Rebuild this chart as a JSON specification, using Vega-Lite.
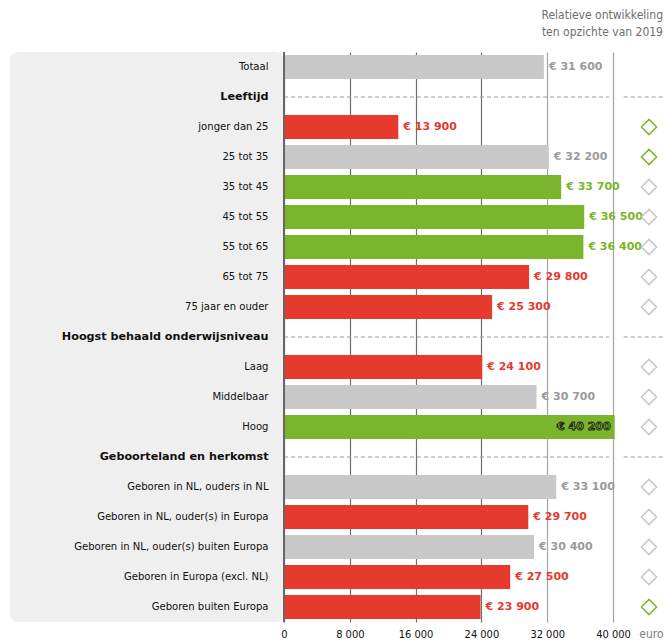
{
  "$schema": "https://vega.github.io/schema/vega-lite/v6.json",
  "padding": {"left": 10, "top": 9, "right": 0, "bottom": 0},
  "spacing": 0,
  "bounds": "flush",
  "config": {
    "view": {"stroke": null},
    "font": "DejaVu Sans Condensed, DejaVu Sans",
    "locale": {"number": {"decimal": ",", "thousands": " ", "grouping": [3], "currency": ["€ ", ""]}}
  },
  "data": {
    "values": [
      {"kenmerk": "Totaal", "inkomen": 31600, "vergelijking": "gelijk", "ontwikkeling": null, "soort": "rij"},
      {"kenmerk": "Leeftijd", "inkomen": null, "vergelijking": null, "ontwikkeling": null, "soort": "kop"},
      {"kenmerk": "jonger dan 25", "inkomen": 13900, "vergelijking": "lager", "ontwikkeling": "toename", "soort": "rij"},
      {"kenmerk": "25 tot 35", "inkomen": 32200, "vergelijking": "gelijk", "ontwikkeling": "toename", "soort": "rij"},
      {"kenmerk": "35 tot 45", "inkomen": 33700, "vergelijking": "hoger", "ontwikkeling": "geen", "soort": "rij"},
      {"kenmerk": "45 tot 55", "inkomen": 36500, "vergelijking": "hoger", "ontwikkeling": "geen", "soort": "rij"},
      {"kenmerk": "55 tot 65", "inkomen": 36400, "vergelijking": "hoger", "ontwikkeling": "geen", "soort": "rij"},
      {"kenmerk": "65 tot 75", "inkomen": 29800, "vergelijking": "lager", "ontwikkeling": "geen", "soort": "rij"},
      {"kenmerk": "75 jaar en ouder", "inkomen": 25300, "vergelijking": "lager", "ontwikkeling": "geen", "soort": "rij"},
      {"kenmerk": "Hoogst behaald onderwijsniveau", "inkomen": null, "vergelijking": null, "ontwikkeling": null, "soort": "kop"},
      {"kenmerk": "Laag", "inkomen": 24100, "vergelijking": "lager", "ontwikkeling": "geen", "soort": "rij"},
      {"kenmerk": "Middelbaar", "inkomen": 30700, "vergelijking": "gelijk", "ontwikkeling": "geen", "soort": "rij"},
      {"kenmerk": "Hoog", "inkomen": 40200, "vergelijking": "hoger", "ontwikkeling": "geen", "soort": "rij"},
      {"kenmerk": "Geboorteland en herkomst", "inkomen": null, "vergelijking": null, "ontwikkeling": null, "soort": "kop"},
      {"kenmerk": "Geboren in NL, ouders in NL", "inkomen": 33100, "vergelijking": "gelijk", "ontwikkeling": "geen", "soort": "rij"},
      {"kenmerk": "Geboren in NL, ouder(s) in Europa", "inkomen": 29700, "vergelijking": "lager", "ontwikkeling": "geen", "soort": "rij"},
      {"kenmerk": "Geboren in NL, ouder(s) buiten Europa", "inkomen": 30400, "vergelijking": "gelijk", "ontwikkeling": "geen", "soort": "rij"},
      {"kenmerk": "Geboren in Europa (excl. NL)", "inkomen": 27500, "vergelijking": "lager", "ontwikkeling": "geen", "soort": "rij"},
      {"kenmerk": "Geboren buiten Europa", "inkomen": 23900, "vergelijking": "lager", "ontwikkeling": "toename", "soort": "rij"}
    ]
  },
  "hconcat": [
    {
      "width": 274,
      "height": 570,
      "view": {"fill": "#efefef", "cornerRadius": 8, "stroke": null},
      "mark": {"type": "tick", "opacity": 0},
      "encoding": {
        "y": {"field": "kenmerk", "type": "nominal", "sort": null, "axis": null}
      }
    },
    {
      "width": 381,
      "height": 570,
      "title": {
        "text": ["Relatieve ontwikkeling", "ten opzichte van 2019"],
        "anchor": "end",
        "align": "right",
        "frame": "group",
        "fontSize": 12,
        "fontWeight": "normal",
        "color": "#6e6e6e",
        "lineHeight": 17,
        "offset": 12,
        "dx": -2
      },
      "resolve": {"scale": {"color": "independent"}},
      "layer": [
        {
          "mark": {"type": "bar"},
          "encoding": {
            "y": {
              "field": "kenmerk", "type": "nominal",
              "scale": {
                "domain": ["Totaal", "Leeftijd", "jonger dan 25", "25 tot 35", "35 tot 45", "45 tot 55", "55 tot 65", "65 tot 75", "75 jaar en ouder", "Hoogst behaald onderwijsniveau", "Laag", "Middelbaar", "Hoog", "Geboorteland en herkomst", "Geboren in NL, ouders in NL", "Geboren in NL, ouder(s) in Europa", "Geboren in NL, ouder(s) buiten Europa", "Geboren in Europa (excl. NL)", "Geboren buiten Europa"],
                "paddingInner": 0.2, "paddingOuter": 0.1
              },
              "axis": {
                "title": null, "domain": false, "ticks": false, "labelPadding": 16,
                "labelFontSize": 11.2, "labelColor": "#111111", "labelLimit": 300,
                "labelFont": {"condition": {"test": "indexof(['Leeftijd','Hoogst behaald onderwijsniveau','Geboorteland en herkomst'], datum.value) >= 0", "value": "DejaVu Sans"}, "value": "DejaVu Sans Condensed, DejaVu Sans"},
                "labelFontWeight": {"condition": {"test": "indexof(['Leeftijd','Hoogst behaald onderwijsniveau','Geboorteland en herkomst'], datum.value) >= 0", "value": "bold"}, "value": "normal"}
              }
            },
            "x": {
              "field": "inkomen", "type": "quantitative",
              "scale": {"domain": [0, 46322], "nice": false, "zero": true},
              "axis": {
                "values": [0, 8000, 16000, 24000, 32000, 40000],
                "format": ",.0f",
                "grid": true,
                "gridColor": {"condition": {"test": "datum.value >= 32000", "value": "#a5a5a5"}, "value": "#6e6e6e"},
                "gridWidth": 1.2,
                "domain": false, "ticks": false, "labelFlush": false,
                "labelPadding": 6, "labelFontSize": 11, "labelColor": "#111111",
                "title": "euro", "titleX": 379, "titleY": 15, "titleAlign": "right", "titleAnchor": null,
                "titleBaseline": "alphabetic",
                "titleFontWeight": "normal", "titleColor": "#808080", "titleFontSize": 12
              }
            },
            "color": {
              "field": "vergelijking", "type": "nominal", "legend": null,
              "scale": {"domain": ["lager", "gelijk", "hoger"], "range": ["#e63a2f", "#c8c8c8", "#7ab52b"]}
            }
          }
        },
        {
          "transform": [{"filter": "datum.soort === 'kop'"}],
          "mark": {"type": "rule", "color": "#9a9a9a", "strokeDash": [4, 3], "strokeWidth": 1},
          "encoding": {
            "y": {"field": "kenmerk", "type": "nominal"},
            "x": {"datum": 0},
            "x2": {"datum": 39500}
          }
        },
        {
          "transform": [{"filter": "datum.soort === 'kop'"}],
          "mark": {"type": "rule", "color": "#9a9a9a", "strokeDash": [4, 3], "strokeWidth": 1},
          "encoding": {
            "y": {"field": "kenmerk", "type": "nominal"},
            "x": {"datum": 41300},
            "x2": {"datum": 46322}
          }
        },
        {
          "transform": [{"filter": "datum.inkomen != null && datum.kenmerk !== 'Hoog'"}],
          "mark": {"type": "text", "align": "left", "dx": 5, "fontSize": 11, "fontWeight": "bold", "font": "DejaVu Sans"},
          "encoding": {
            "y": {"field": "kenmerk", "type": "nominal"},
            "x": {"field": "inkomen", "type": "quantitative"},
            "text": {"field": "inkomen", "type": "quantitative", "format": "$,.0f"},
            "color": {
              "field": "vergelijking", "type": "nominal", "legend": null,
              "scale": {"domain": ["lager", "gelijk", "hoger"], "range": ["#e63a2f", "#9a9a9a", "#7ab52b"]}
            }
          }
        },
        {
          "transform": [{"filter": "datum.kenmerk === 'Hoog'"}],
          "mark": {"type": "text", "align": "right", "dx": -4, "fontSize": 11, "fontWeight": "bold", "font": "DejaVu Sans", "fill": "#7ab52b", "stroke": "#1a1a1a", "strokeWidth": 0.9},
          "encoding": {
            "y": {"field": "kenmerk", "type": "nominal"},
            "x": {"field": "inkomen", "type": "quantitative"},
            "text": {"field": "inkomen", "type": "quantitative", "format": "$,.0f"}
          }
        },
        {
          "transform": [{"filter": "datum.ontwikkeling != null"}],
          "mark": {"type": "point", "shape": "diamond", "filled": false, "strokeWidth": 1.5, "size": 230, "opacity": 1},
          "encoding": {
            "y": {"field": "kenmerk", "type": "nominal"},
            "x": {"datum": 44380},
            "color": {
              "field": "ontwikkeling", "type": "nominal", "legend": null,
              "scale": {"domain": ["toename", "geen"], "range": ["#7ab52b", "#c8c8c8"]}
            }
          }
        },
        {
          "mark": {"type": "rule", "color": "#666666", "strokeWidth": 2},
          "encoding": {"x": {"datum": 0}}
        }
      ]
    }
  ]
}
